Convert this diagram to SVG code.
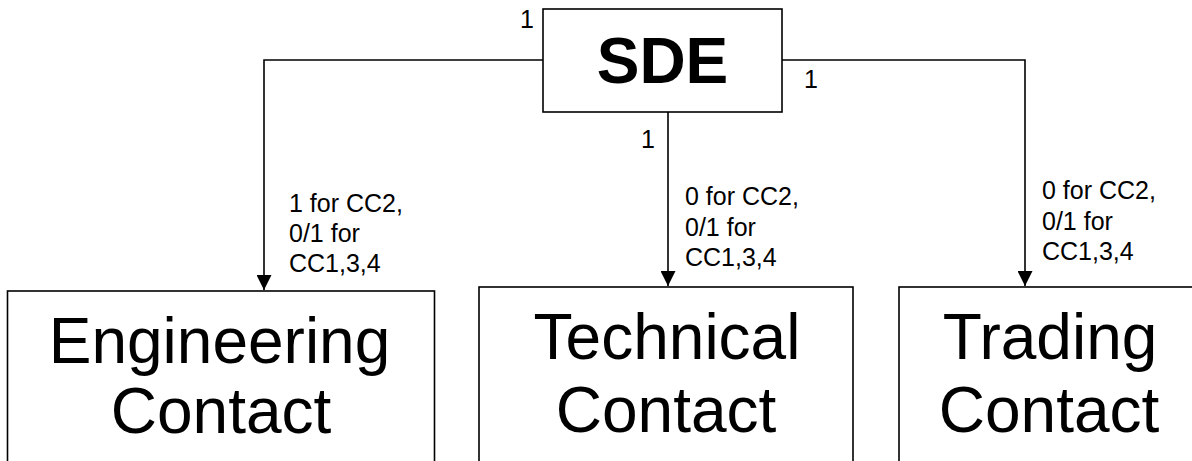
<svg xmlns="http://www.w3.org/2000/svg" width="1192" height="461" viewBox="0 0 1192 461">
<style>
.box{fill:#fff;stroke:#000;stroke-width:1.6}
.big{font-family:"Liberation Sans",Arial,sans-serif;font-size:64px;fill:#000;text-anchor:middle}
.bold{font-weight:bold}
.lbl{font-family:"Liberation Sans",Arial,sans-serif;font-size:25px;fill:#000}
.con{fill:none;stroke:#000;stroke-width:1.6}
</style>
<defs>
<marker id="arr" viewBox="0 0 10 10" refX="10" refY="5" markerWidth="15" markerHeight="15" markerUnits="userSpaceOnUse" orient="auto">
<path d="M0,0 L10,5 L0,10 z" fill="#000"/>
</marker>
</defs>
<rect width="1192" height="461" fill="#fff"/>
<g id="connectors">
<path class="con" d="M543,60 H264 V290" marker-end="url(#arr)"/>
<path class="con" d="M668,112 V286" marker-end="url(#arr)"/>
<path class="con" d="M782,60 H1025 V286" marker-end="url(#arr)"/>
<text class="lbl" x="520" y="28">1</text>
<text class="lbl" x="804" y="88">1</text>
<text class="lbl" x="641" y="148">1</text>
<text class="lbl" x="289" y="212">1 for CC2,<tspan x="289" y="242">0/1 for</tspan><tspan x="289" y="272">CC1,3,4</tspan></text>
<text class="lbl" x="685" y="205">0 for CC2,<tspan x="685" y="236">0/1 for</tspan><tspan x="685" y="266">CC1,3,4</tspan></text>
<text class="lbl" x="1042" y="199">0 for CC2,<tspan x="1042" y="230">0/1 for</tspan><tspan x="1042" y="260">CC1,3,4</tspan></text>
</g>
<g id="sde">
<rect class="box" x="543" y="9" width="239" height="103"/>
<text class="big bold" x="662.5" y="83">SDE</text>
</g>
<g id="engineering">
<rect class="box" x="7.5" y="291" width="427" height="200"/>
<text class="big" x="219.5" y="363">Engineering</text>
<text class="big" x="221" y="433">Contact</text>
</g>
<g id="technical">
<rect class="box" x="479" y="287" width="374" height="200"/>
<text class="big" x="667" y="359">Technical</text>
<text class="big" x="666" y="432">Contact</text>
</g>
<g id="trading">
<rect class="box" x="899" y="287" width="310" height="200"/>
<text class="big" x="1050" y="359">Trading</text>
<text class="big" x="1049" y="432">Contact</text>
</g>
</svg>
